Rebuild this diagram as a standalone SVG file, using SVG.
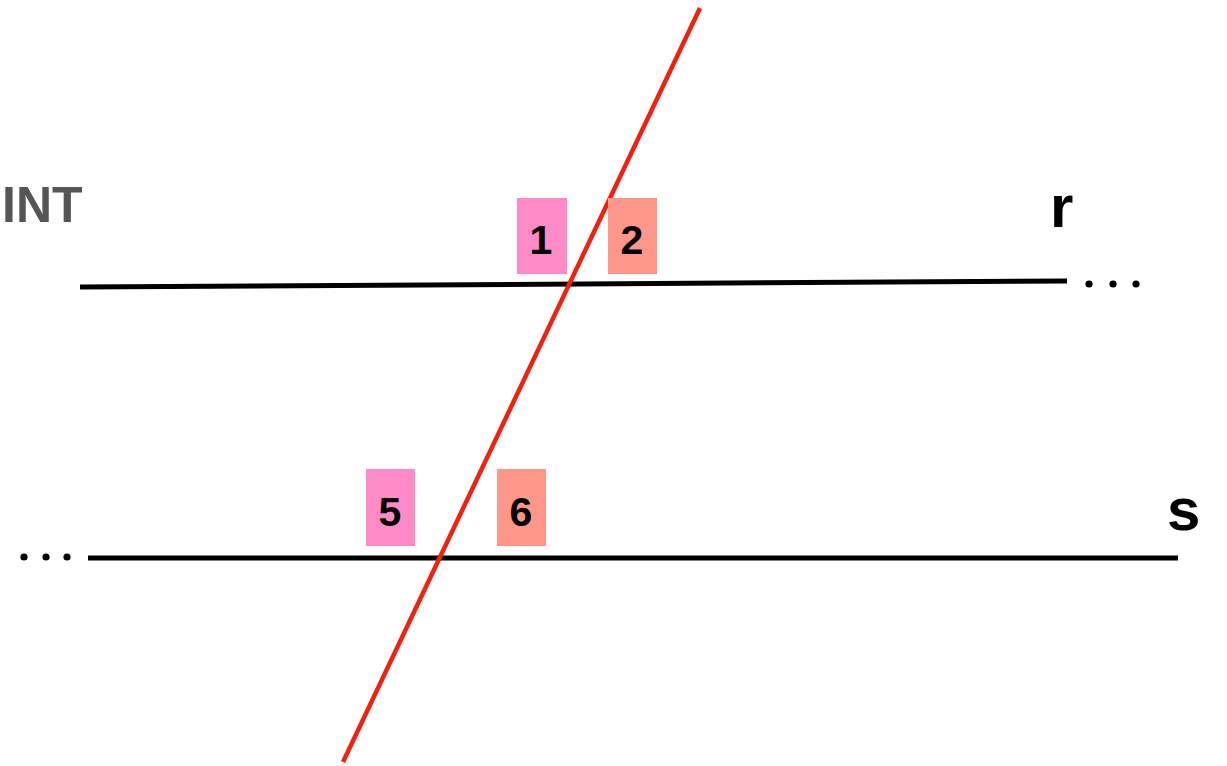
<svg xmlns="http://www.w3.org/2000/svg" width="1227" height="766" viewBox="0 0 1227 766">
<style>
.t{font-family:"Liberation Sans",Arial,sans-serif;font-weight:bold;fill:#000}
.num{font-size:41px;text-anchor:middle}
.ln{stroke:#000;stroke-width:5;fill:none}
</style>
<rect width="1227" height="766" fill="#fff"/>
<text class="t" x="2" y="222" font-size="50" style="fill:#555">INT</text>
<g id="connectors">
<line class="ln" x1="80" y1="287" x2="1067" y2="281"/>
<line class="ln" x1="88" y1="558" x2="1178" y2="558"/>
<line x1="700" y1="8" x2="343" y2="762" stroke="#EE2211" stroke-width="4.5"/>
</g>
<g id="dots" fill="#000">
<circle cx="1089" cy="284" r="3.6"/><circle cx="1113" cy="284" r="3.6"/><circle cx="1136" cy="284" r="3.6"/>
<circle cx="24" cy="557" r="3.6"/><circle cx="46" cy="557" r="3.6"/><circle cx="67" cy="557" r="3.6"/>
</g>
<g id="n1"><rect x="517" y="198" width="50" height="76" fill="#FF8AC8"/><text class="t num" x="541" y="254">1</text></g>
<g id="n2"><rect x="608" y="198" width="49" height="76" fill="#FF968A"/><text class="t num" x="632" y="254">2</text></g>
<g id="n5"><rect x="366" y="469" width="49" height="77" fill="#FF8AC8"/><text class="t num" x="390" y="526">5</text></g>
<g id="n6"><rect x="497" y="469" width="49" height="77" fill="#FF968A"/><text class="t num" x="521" y="526">6</text></g>
<text class="t" x="1050" y="227" font-size="60">r</text>
<text class="t" x="1167" y="530" font-size="60">s</text>
</svg>
